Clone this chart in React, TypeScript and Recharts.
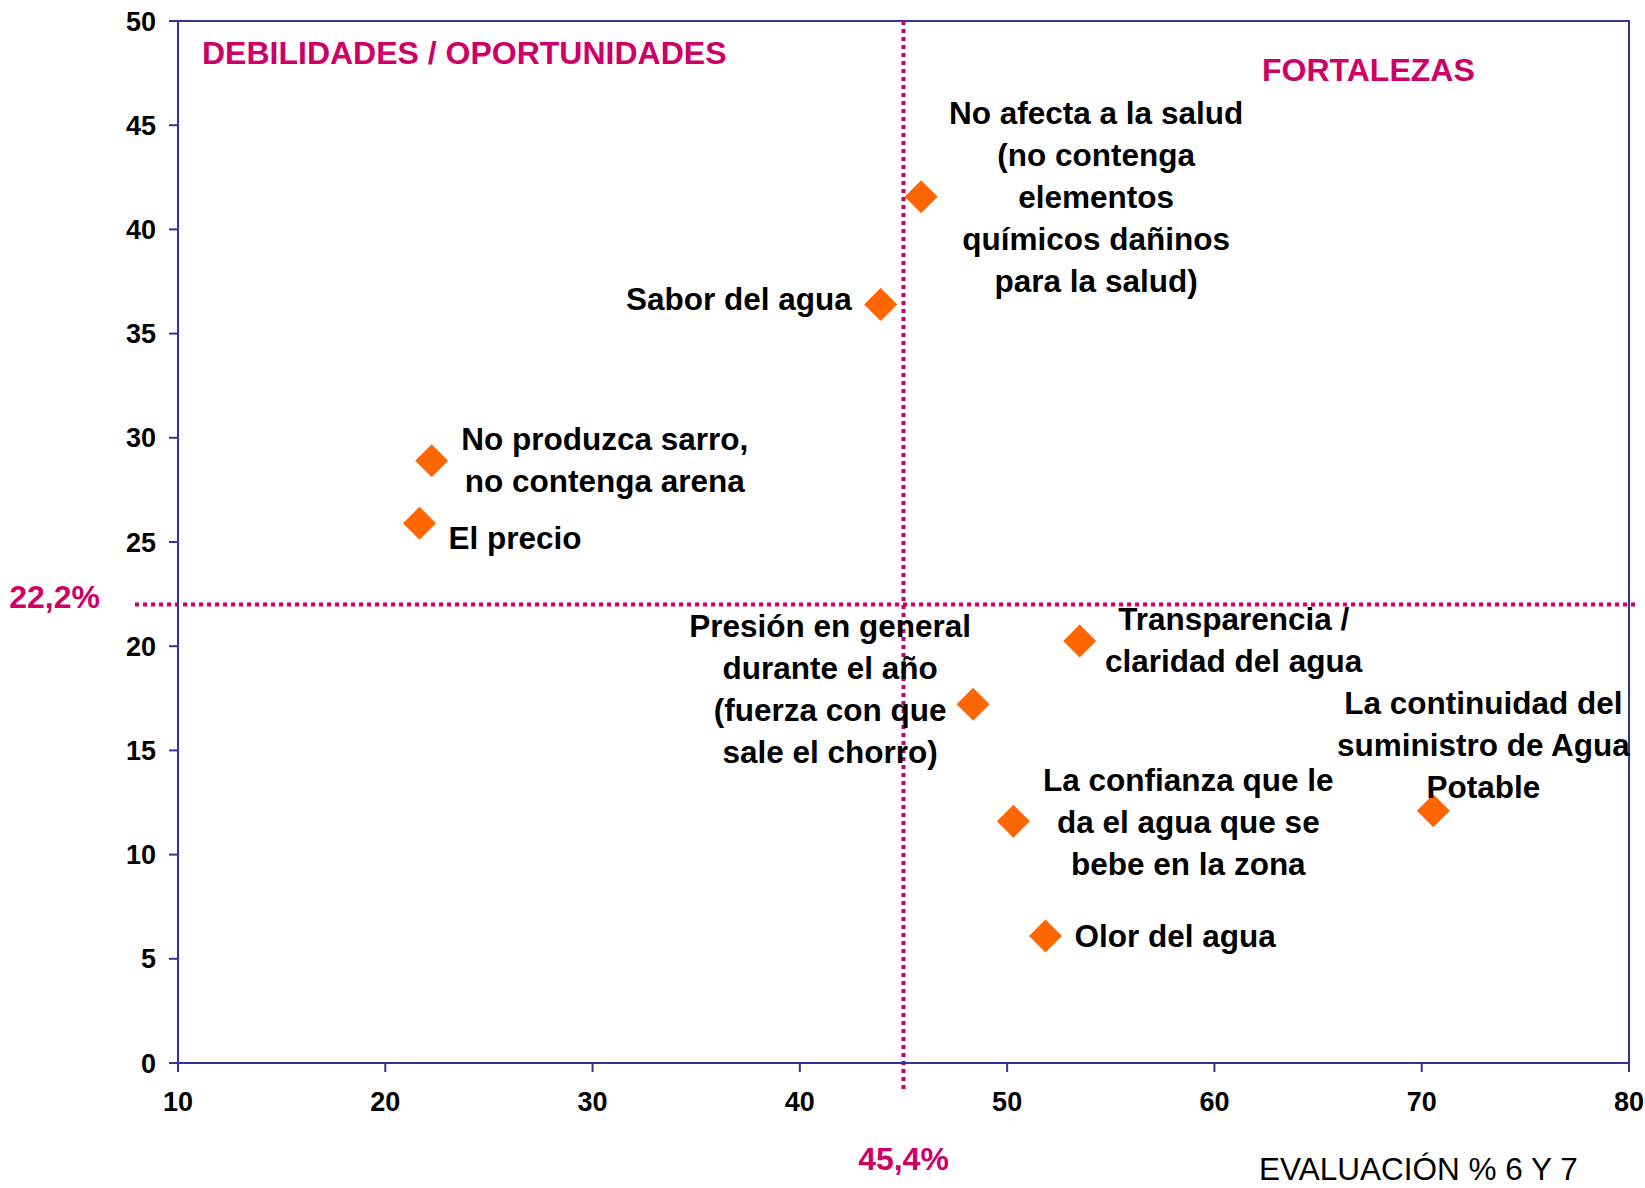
import { ScatterChart, Scatter, XAxis, YAxis, ReferenceLine, ReferenceArea } from 'recharts'

const categories = [
  'No afecta a la salud\n(no contenga\nelementos\nquímicos dañinos\npara la salud)',
  'Sabor del agua',
  'No produzca sarro,\nno contenga arena',
  'El precio',
  'Transparencia /\nclaridad del agua',
  'Presión en general\ndurante el año\n(fuerza con que\nsale el chorro)',
  'La confianza que le\nda el agua que se\nbebe en la zona',
  'Olor del agua',
  'La continuidad del\nsuministro de Agua\nPotable',
]
const evaluacion = [45.85, 43.9, 22.24, 21.65, 53.5, 48.36, 50.3, 51.85, 70.56]
const importancia = [41.57, 36.4, 28.9, 25.9, 20.25, 17.21, 11.6, 6.1, 12.1]

const xTicks = [10, 20, 30, 40, 50, 60, 70, 80]
const yTicks = [0, 5, 10, 15, 20, 25, 30, 35, 40, 45, 50]

const refX = 45
const refXLabel = '45,4%'
const refY = 22
const refYLabel = '22,2%'

// label placement around each point (px), same order as categories
const labelLayout = [
  { dx: 175, dy: -73, anchor: 'middle' },
  { dx: -29, dy: 6, anchor: 'end' },
  { dx: 173, dy: -11, anchor: 'middle' },
  { dx: 29, dy: 26, anchor: 'start' },
  { dx: 154, dy: -11, anchor: 'middle' },
  { dx: -143, dy: -67, anchor: 'middle' },
  { dx: 175, dy: -30, anchor: 'middle' },
  { dx: 29, dy: 11, anchor: 'start' },
  { dx: 50, dy: -97, anchor: 'middle' },
]

const data = categories.map((name, i) => ({ name, x: evaluacion[i], y: importancia[i], i }))

const FONT = '"Liberation Sans", Arial, sans-serif'
const AXIS = '#333399'
const PINK = '#cc0066'

function Diamond(props: any) {
  const { cx, cy, payload } = props
  const r = 16.5
  const lay = labelLayout[payload.i]
  const lines = payload.name.split('\n')
  return (
    <g>
      <polygon
        points={`${cx},${cy - r} ${cx + r},${cy} ${cx},${cy + r} ${cx - r},${cy}`}
        fill="#ff6600"
      />
      <text
        x={cx + lay.dx}
        y={cy + lay.dy}
        textAnchor={lay.anchor}
        fontFamily={FONT}
        fontWeight="bold"
        fontSize={31.5}
        fill="#000"
      >
        {lines.map((l: string, k: number) => (
          <tspan key={k} x={cx + lay.dx} y={cy + lay.dy + k * 42}>
            {l}
          </tspan>
        ))}
      </text>
    </g>
  )
}

function VLine(props: any) {
  const { x1, y1, y2 } = props
  const top = Math.min(y1, y2)
  const bottom = Math.max(y1, y2)
  return (
    <g>
      <line x1={x1} x2={x1} y1={top} y2={bottom + 29} stroke={PINK} strokeWidth={4} strokeDasharray="4 4" />
      <text x={x1} y={bottom + 107} textAnchor="middle" fontFamily={FONT} fontWeight="bold" fontSize={32} fill={PINK}>
        {refXLabel}
      </text>
    </g>
  )
}

function HLine(props: any) {
  const { x1, x2, y1 } = props
  const left = Math.min(x1, x2)
  const right = Math.max(x1, x2)
  return (
    <g>
      <line x1={left - 43} x2={right + 6} y1={y1} y2={y1} stroke={PINK} strokeWidth={4} strokeDasharray="4 4" />
      <text x={left - 78} y={y1 + 3} textAnchor="end" fontFamily={FONT} fontWeight="bold" fontSize={32} fill={PINK}>
        {refYLabel}
      </text>
    </g>
  )
}

const tickStyle = { fontFamily: FONT, fontWeight: 'bold', fontSize: 27, fill: '#000' }

export default function App() {
  return (
    <div style={{ position: 'absolute', left: 0, top: 0, width: 1645, height: 1188, background: '#fff' }}>
      <ScatterChart width={1645} height={1188} margin={{ top: 21, right: 16, bottom: 65, left: 78 }}>
        <ReferenceArea x1={10} x2={80} y1={0} y2={50} fill="none" stroke={AXIS} strokeWidth={2} fillOpacity={0} />
        <XAxis
          type="number"
          dataKey="x"
          domain={[10, 80]}
          ticks={xTicks}
          height={60}
          tickSize={9}
          tickMargin={20}
          axisLine={{ stroke: AXIS, strokeWidth: 2 }}
          tickLine={{ stroke: AXIS, strokeWidth: 2 }}
          tick={tickStyle}
          interval={0}
        />
        <YAxis
          type="number"
          dataKey="y"
          domain={[0, 50]}
          ticks={yTicks}
          width={100}
          tickSize={9}
          tickMargin={13}
          axisLine={{ stroke: AXIS, strokeWidth: 2 }}
          tickLine={{ stroke: AXIS, strokeWidth: 2 }}
          tick={tickStyle}
          interval={0}
        />
        <ReferenceLine x={refX} shape={VLine} />
        <ReferenceLine y={refY} shape={HLine} />
        <Scatter data={data} shape={Diamond} isAnimationActive={false} />
      </ScatterChart>
      <svg width={1645} height={1188} style={{ position: 'absolute', left: 0, top: 0, pointerEvents: 'none' }}>
        <text x={202} y={64} fontFamily={FONT} fontWeight="bold" fontSize={32} fill={PINK}>
          DEBILIDADES / OPORTUNIDADES
        </text>
        <text x={1262} y={81} fontFamily={FONT} fontWeight="bold" fontSize={32} fill={PINK}>
          FORTALEZAS
        </text>
        <text x={1259} y={1180} fontFamily={FONT} fontSize={31.5} fill="#000">
          EVALUACIÓN % 6 Y 7
        </text>
      </svg>
    </div>
  )
}
